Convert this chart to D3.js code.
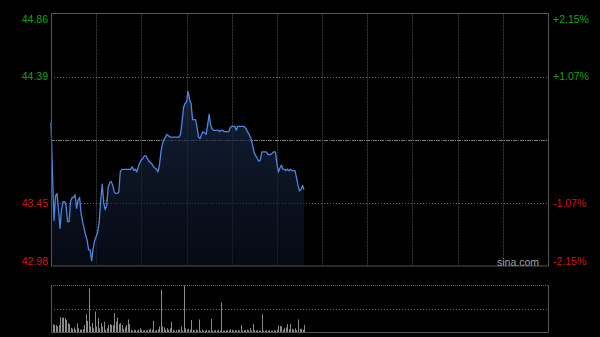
<!DOCTYPE html>
<html>
<head>
<meta charset="utf-8">
<script src="https://cdn.jsdelivr.net/npm/d3@7"></script>
<style>
  html, body { margin: 0; padding: 0; background: #000; }
  svg { display: block; }
</style>
</head>
<body>
<div class="canvas"></div>
<script>
// intraday minute prices (index = minutes since open)
const prices = [
  44.05, 43.66, 43.32, 43.50, 43.52, 43.40, 43.26, 43.40, 43.46, 43.46,
  43.43, 43.31, 43.31, 43.46, 43.49, 43.49, 43.51, 43.41, 43.47, 43.49,
  43.37, 43.31, 43.26, 43.21, 43.17, 43.10, 43.10, 43.02, 43.11, 43.17,
  43.20, 43.23, 43.31, 43.47, 43.59, 43.45, 43.40, 43.43, 43.57, 43.60,
  43.61, 43.58, 43.53, 43.52, 43.52, 43.53, 43.68, 43.70, 43.70, 43.70,
  43.70, 43.70, 43.70, 43.70, 43.72, 43.69, 43.70, 43.68, 43.72, 43.75,
  43.77, 43.78, 43.80, 43.80, 43.78, 43.76, 43.75, 43.74, 43.72, 43.71,
  43.70, 43.68, 43.73, 43.83, 43.89, 43.92, 43.94, 43.96, 43.95, 43.94,
  43.94, 43.94, 43.94, 43.94, 43.94, 43.94, 43.96, 44.05, 44.16, 44.19,
  44.20, 44.28, 44.22, 44.19, 44.07, 44.07, 44.07, 44.01, 43.94, 43.93,
  43.96, 43.98, 43.97, 43.96, 44.03, 44.11, 44.03, 44.00, 43.99, 43.99,
  43.99, 43.99, 43.98, 43.99, 43.99, 43.98, 43.98, 43.98, 43.98, 44.01,
  44.02, 44.02, 44.02, 43.99, 44.02, 44.02, 44.02, 44.02, 44.02, 44.01,
  43.99, 43.97, 43.95, 43.92, 43.87, 43.82, 43.80, 43.78, 43.76, 43.77,
  43.83, 43.83, 43.83, 43.83, 43.81, 43.81, 43.81, 43.82, 43.83, 43.83,
  43.74, 43.68, 43.71, 43.73, 43.70, 43.70, 43.69, 43.70, 43.69, 43.70,
  43.69, 43.69, 43.69, 43.64, 43.58, 43.54, 43.55, 43.58, 43.55
]

// minute volumes (relative units)
const volumes = [
  10, 17, 15, 15, 12, 15, 32, 31, 31, 30,
  26, 19, 17, 9, 7, 10, 5, 19, 8, 5,
  5, 6, 15, 38, 24, 94, 12, 19, 8, 44,
  12, 30, 8, 19, 12, 22, 5, 8, 15, 17,
  15, 15, 41, 22, 31, 17, 19, 15, 7, 10,
  15, 27, 17, 5, 3, 5, 4, 3, 5, 8,
  5, 3, 4, 3, 4, 5, 7, 5, 24, 3,
  4, 6, 12, 91, 12, 10, 5, 8, 5, 8,
  22, 4, 3, 4, 5, 5, 12, 3, 100, 8,
  5, 7, 5, 26, 5, 3, 5, 4, 27, 3,
  5, 3, 3, 5, 3, 4, 28, 3, 3, 4,
  3, 5, 3, 63, 3, 3, 3, 4, 3, 6,
  5, 3, 4, 3, 4, 3, 15, 3, 4, 4,
  5, 4, 8, 3, 17, 4, 3, 4, 3, 3,
  38, 3, 3, 4, 3, 4, 3, 3, 4, 3,
  5, 14, 13, 12, 5, 8, 10, 17, 6, 17,
  7, 5, 8, 4, 27, 7, 7, 5, 15
]

const prevClose = 43.92
const priceTicks = [44.86, 44.39, 43.45, 42.98]
const pctTicks = ['+2.15%', '+1.07%', '-1.07%', '-2.15%']
const sessionMinutes = 330
const timeGrid = [30, 60, 90, 120, 150, 180, 210, 240, 270, 300]

const W = 600, H = 337
const plot = { left: 51, right: 548, top: 13.5, bottom: 266 }
const vol = { top: 285.5, bottom: 332 }

const green = '#13a513'
const red = '#d41414'

const svg = d3.select('.canvas')
  .append('svg')
    .attr('width', W)
    .attr('height', H)
    .style('background', '#000')

const x = d3.scaleLinear()
  .domain([0, sessionMinutes])
  .range([plot.left, plot.right])

const y = d3.scaleLinear()
  .domain([d3.min(priceTicks), d3.max(priceTicks)])
  .range([plot.bottom, plot.top])

const vy = d3.scaleLinear()
  .domain([0, d3.max(volumes)])
  .range([vol.bottom, vol.top])

const defs = svg.append('defs')
const grad = defs.append('linearGradient')
  .attr('id', 'areaFill')
  .attr('x1', 0).attr('y1', 0).attr('x2', 0).attr('y2', 1)
grad.append('stop').attr('offset', '0%').attr('stop-color', '#1a2a48').attr('stop-opacity', 0.75)
grad.append('stop').attr('offset', '100%').attr('stop-color', '#0a1020').attr('stop-opacity', 0.6)

// grid
const grid = svg.append('g')

grid.selectAll('line.v')
  .data(timeGrid)
  .enter()
  .append('line')
    .attr('x1', d => Math.round(x(d)) + 0.5)
    .attr('x2', d => Math.round(x(d)) + 0.5)
    .attr('y1', plot.top)
    .attr('y2', plot.bottom)
    .attr('stroke', '#3a3a3a')
    .attr('stroke-dasharray', '2,1')

grid.selectAll('line.h')
  .data(priceTicks.slice(1, 3))
  .enter()
  .append('line')
    .attr('x1', plot.left)
    .attr('x2', plot.right)
    .attr('y1', d => Math.round(y(d)) + 0.5)
    .attr('y2', d => Math.round(y(d)) + 0.5)
    .attr('stroke', '#6a6a6a')
    .attr('stroke-dasharray', '1,2')

grid.append('line')
  .attr('x1', plot.left)
  .attr('x2', plot.right)
  .attr('y1', Math.round(y(prevClose)) + 0.5)
  .attr('y2', Math.round(y(prevClose)) + 0.5)
  .attr('stroke', '#7a7a7a')
  .attr('stroke-dasharray', '4,1,1,1')

// area + line
const area = d3.area()
  .x((d, i) => x(i))
  .y0(plot.bottom)
  .y1(d => y(d))

const line = d3.line()
  .x((d, i) => x(i))
  .y(d => y(d))

svg.append('path')
  .datum(prices)
  .attr('d', area)
  .attr('fill', 'url(#areaFill)')

svg.append('path')
  .datum(prices)
  .attr('d', line)
  .attr('fill', 'none')
  .attr('stroke', '#4d86e0')
  .attr('stroke-width', 1.3)
  .attr('stroke-linejoin', 'round')

// frame
svg.append('rect')
  .attr('x', plot.left + 0.5)
  .attr('y', plot.top)
  .attr('width', plot.right - plot.left)
  .attr('height', plot.bottom - plot.top)
  .attr('fill', 'none')
  .attr('stroke', '#555')

// price labels (left) and percent labels (right)
const labels = svg.append('g')
  .style('font-family', '"Liberation Sans", Arial, sans-serif')
  .style('font-size', '10.5px')

const nudge = i => i === 0 ? 6 : (i === priceTicks.length - 1 ? -5 : 0)

labels.selectAll('text.p')
  .data(priceTicks)
  .enter()
  .append('text')
    .attr('x', plot.left - 3)
    .attr('y', (d, i) => y(d) + nudge(i))
    .attr('dy', '0.35em')
    .attr('text-anchor', 'end')
    .attr('fill', d => d > prevClose ? green : red)
    .text(d => d.toFixed(2))

labels.selectAll('text.pct')
  .data(pctTicks)
  .enter()
  .append('text')
    .attr('x', plot.right + 5)
    .attr('y', (d, i) => y(priceTicks[i]) + nudge(i))
    .attr('dy', '0.35em')
    .attr('text-anchor', 'start')
    .attr('fill', d => d[0] === '+' ? green : red)
    .text(d => d)

svg.append('text')
  .attr('x', 518)
  .attr('y', 262)
  .attr('dy', '0.35em')
  .attr('text-anchor', 'middle')
  .attr('fill', '#a0a0a0')
  .style('font-family', '"Liberation Sans", Arial, sans-serif')
  .style('font-size', '10.5px')
  .text('sina.com')

// volume panel
const vg = svg.append('g')

vg.append('line')
  .attr('x1', plot.left).attr('x2', plot.right)
  .attr('y1', vol.top).attr('y2', vol.top)
  .attr('stroke', '#666')
  .attr('stroke-dasharray', '1,1')

vg.append('line')
  .attr('x1', plot.left).attr('x2', plot.right)
  .attr('y1', Math.round((vol.top + vol.bottom) / 2) + 0.5)
  .attr('y2', Math.round((vol.top + vol.bottom) / 2) + 0.5)
  .attr('stroke', '#666')
  .attr('stroke-dasharray', '1,2')

vg.selectAll('rect')
  .data(volumes)
  .enter()
  .append('rect')
    .attr('x', (d, i) => Math.round(x(i)))
    .attr('y', d => vy(d))
    .attr('width', 1)
    .attr('height', d => vol.bottom - vy(d))
    .attr('fill', '#8a8a8a')

vg.append('path')
  .attr('d', `M${plot.left + 0.5},${vol.top}V${vol.bottom + 0.5}H${plot.right + 0.5}V${vol.top}`)
  .attr('fill', 'none')
  .attr('stroke', '#555')
</script>
</body>
</html>
